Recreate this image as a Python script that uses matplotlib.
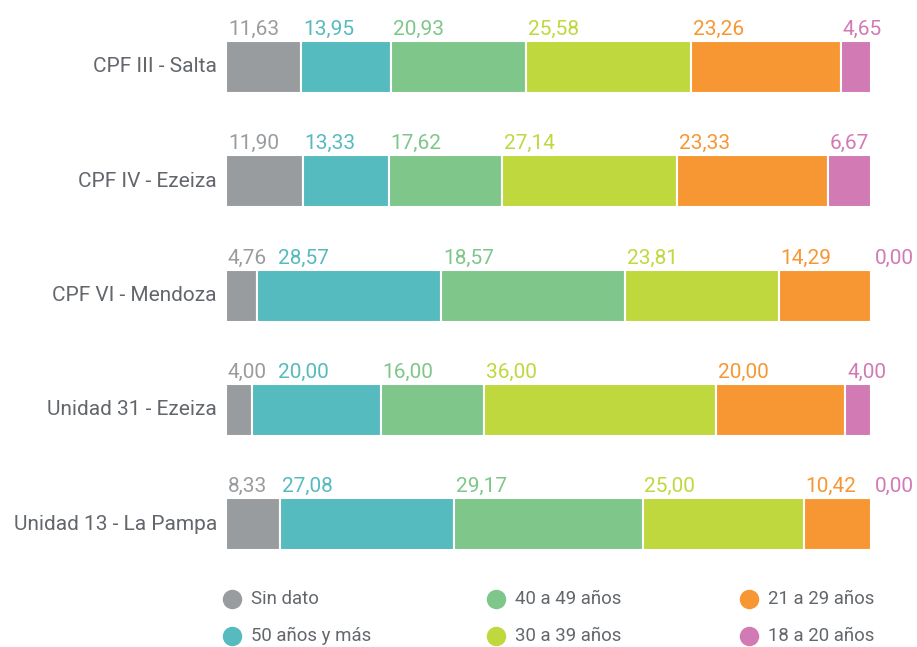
import matplotlib
matplotlib.use("Agg")
import matplotlib.pyplot as plt
from matplotlib.lines import Line2D

plt.rcParams["font.family"] = ["Roboto", "DejaVu Sans"]

categories = ["CPF III - Salta", "CPF IV - Ezeiza", "CPF VI - Mendoza",
              "Unidad 31 - Ezeiza", "Unidad 13 - La Pampa"]
series = ["Sin dato", "50 años y más", "40 a 49 años", "30 a 39 años",
          "21 a 29 años", "18 a 20 años"]
colors = ["#999c9f", "#55bbbf", "#7fc68a", "#bfd83e", "#f79733", "#d27ab4"]

# bar widths (%) per category, in series order
values = [
    [11.63, 13.95, 20.93, 25.58, 23.26, 4.65],
    [11.90, 13.33, 17.62, 27.14, 23.33, 6.67],
    [4.76, 28.57, 28.57, 23.81, 14.29, 0.00],
    [4.00, 20.00, 16.00, 36.00, 20.00, 4.00],
    [8.33, 27.08, 29.17, 25.00, 10.42, 0.00],
]
# labels as printed in the source chart
labels = [
    ["11,63", "13,95", "20,93", "25,58", "23,26", "4,65"],
    ["11,90", "13,33", "17,62", "27,14", "23,33", "6,67"],
    ["4,76", "28,57", "18,57", "23,81", "14,29", "0,00"],
    ["4,00", "20,00", "16,00", "36,00", "20,00", "4,00"],
    ["8,33", "27,08", "29,17", "25,00", "10,42", "0,00"],
]

W, H, DPI = 917, 647, 100
TXT = "#63676c"
fig = plt.figure(figsize=(W / DPI, H / DPI), dpi=DPI)
renderer = fig.canvas.get_renderer()

# axes spans pixel x 226..871, y 10..560
ax = fig.add_axes([226 / W, 1 - 560 / H, (871 - 226) / W, 550 / H])
ax.set_xlim(0, 100)
row_px = 114.3
ax.set_ylim((560 - 67) / row_px, (10 - 67) / row_px)
ax.axis("off")

px_per_unit = (871 - 226) / 100.0
GAP = 11 / px_per_unit   # min space between neighbouring labels

for i, (cat, vals, labs) in enumerate(zip(categories, values, labels)):
    left = 0.0
    prev_end = -100.0
    for j, (v, lab) in enumerate(zip(vals, labs)):
        if v > 0:
            ax.barh(i, v, left=left, height=52 / row_px, color=colors[j],
                    edgecolor="white", linewidth=1.5)
        # label at segment start, pushed right if it would hit the previous one
        x = max(left + (0.3 if v > 0 else 0.6), prev_end + GAP)
        t = ax.text(x, i - 0.28, lab, ha="left", va="baseline",
                    fontsize=15, color=colors[j])
        prev_end = x + t.get_window_extent(renderer).width / px_per_unit
        left += v
    ax.text(-1.4, i, cat, ha="right", va="center", fontsize=15,
            color=TXT)

# legend
leg_cols = [232, 496, 749]
leg_rows = [599, 636]
for k, (name, col) in enumerate(zip(series, colors)):
    cx = leg_cols[k // 2]
    cy = leg_rows[k % 2]
    fig.add_artist(Line2D([cx / W], [1 - cy / H], marker="o", markersize=13,
                          color=col, linestyle="none",
                          transform=fig.transFigure))
    fig.text((cx + 19) / W, 1 - cy / H, name, ha="left", va="center",
             fontsize=13.4, color=TXT)

fig.savefig("out.png", dpi=DPI)
